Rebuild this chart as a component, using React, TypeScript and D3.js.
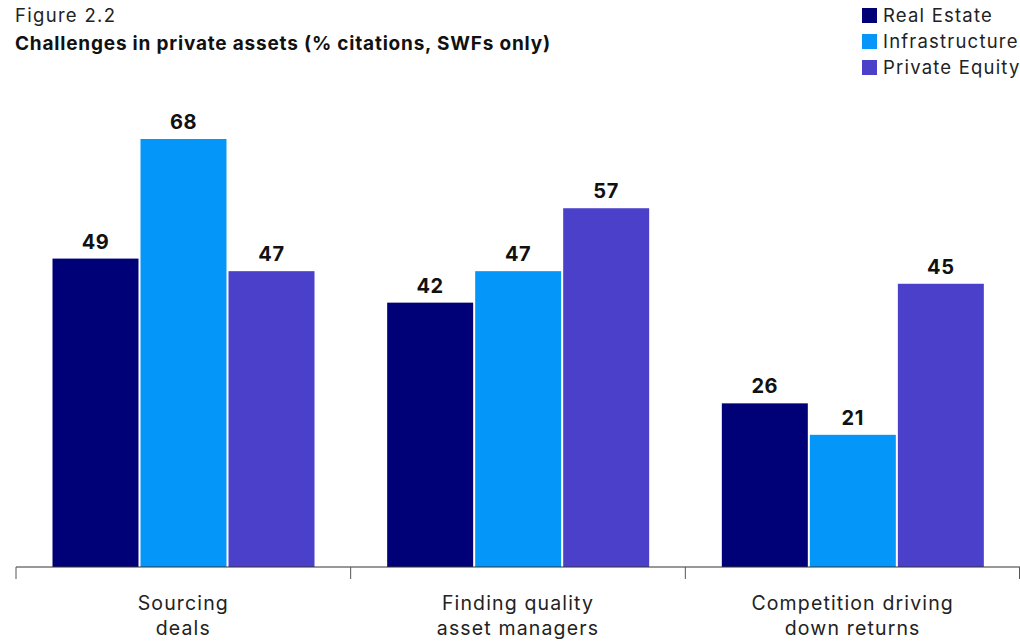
import * as d3 from "d3";

const categories = [["Sourcing", "deals"], ["Finding quality", "asset managers"], ["Competition driving", "down returns"]];
const seriesNames = ["Real Estate", "Infrastructure", "Private Equity"];
const seriesColors = ["#000077", "#0596f9", "#4a40c9"];
const realEstate = [49, 42, 26];
const infrastructure = [68, 47, 21];
const privateEquity = [47, 57, 45];

const W = 1020;
const H = 644;
const FONT = "Inter, Roboto, 'Noto Sans', sans-serif";

export default function App() {
  const values = [realEstate, infrastructure, privateEquity];
  const x0 = d3.scaleBand<number>().domain(d3.range(categories.length)).range([16, 1020]);
  const x1 = d3.scaleBand<number>().domain(d3.range(seriesNames.length)).range([36.5, 298.5]).paddingInner(0.023);
  const y = d3.scaleLinear().domain([0, 68]).range([567, 139]);

  return (
    <svg width={W} height={H} style={{ position: "absolute", left: 0, top: 0, background: "#fff" }} fontFamily={FONT}>
      <text x={15} y={22} fontSize={18.5} letterSpacing={1.3} fill="#222">Figure 2.2</text>
      <text x={15} y={50} fontSize={19} fontWeight={700} letterSpacing={0.8} fill="#111">Challenges in private assets (% citations, SWFs only)</text>

      {seriesNames.map((s, i) => (
        <g key={s} transform={`translate(862, ${8 + i * 26})`}>
          <rect width={15} height={15} fill={seriesColors[i]} />
          <text x={21} y={14} fontSize={18.5} letterSpacing={1.2} fill="#222">{s}</text>
        </g>
      ))}

      {categories.map((c, ci) => (
        <g key={ci} transform={`translate(${x0(ci)}, 0)`}>
          {values.map((vals, si) => (
            <g key={si}>
              <rect x={x1(si)} y={y(vals[ci])} width={x1.bandwidth()} height={y(0) - y(vals[ci])} fill={seriesColors[si]} />
              <text x={(x1(si) as number) + x1.bandwidth() / 2} y={y(vals[ci]) - 10} textAnchor="middle" fontSize={20} fontWeight={700} letterSpacing={0.6} fill="#111">{vals[ci]}</text>
            </g>
          ))}
          {c.map((line, li) => (
            <text key={li} x={x0.bandwidth() / 2} y={610 + li * 25} textAnchor="middle" fontSize={19.5} letterSpacing={1.15} fill="#222">{line}</text>
          ))}
        </g>
      ))}

      <line x1={16} x2={1020} y1={567} y2={567} stroke="#333" strokeWidth={1} />
      {d3.range(categories.length + 1).map((i) => {
        const tx = i < categories.length ? (x0(i) as number) : 1019.5;
        return <line key={i} x1={tx} x2={tx} y1={567} y2={579} stroke="#555" strokeWidth={1} />;
      })}
    </svg>
  );
}
